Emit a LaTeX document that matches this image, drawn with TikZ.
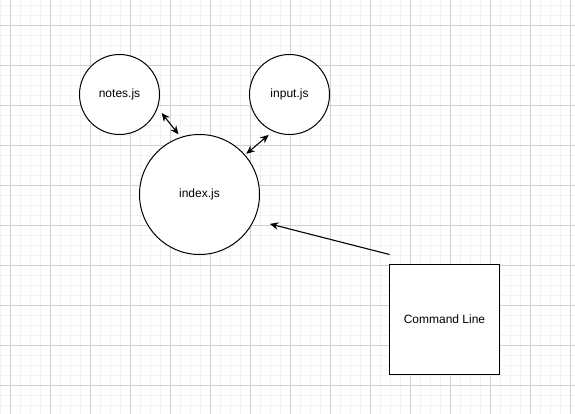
\documentclass[tikz,border=0pt]{standalone}
\usepackage{fontspec}
\setmainfont{Liberation Sans}
\usetikzlibrary{arrows.meta, positioning}
\definecolor{gridminor}{RGB}{242,242,242}
\definecolor{gridmajor}{RGB}{208,208,208}

\begin{document}
\begin{tikzpicture}[x=1pt, y=-1pt, font=\fontsize{12}{14}\selectfont,
    module/.style={circle, draw, line width=1pt, inner sep=0pt, outer sep=0pt, fill=white},
    terminal/.style={rectangle, draw, line width=1pt, minimum size=110pt, inner sep=0pt, outer sep=0pt, fill=white},
    link/.style={line width=1.1pt, {Stealth[length=8.5pt,width=7.5pt]}-{Stealth[length=8.5pt,width=7.5pt]}},
    call/.style={line width=1.1pt, -{Stealth[length=8.5pt,width=7.5pt]}}]

    \useasboundingbox (0,0) rectangle (575,414);

    % Background grid (minor lines)
    \foreach \x in {0,10,...,570} {
        \draw[gridminor, line width=0.7pt] (\x,0) -- (\x,414);
    }
    \foreach \y in {5,15,...,414} {
        \draw[gridminor, line width=0.7pt] (0,\y) -- (575,\y);
    }

    % Background grid (major lines)
    \foreach \x in {10,50,...,570} {
        \draw[gridmajor, line width=0.7pt] (\x,0) -- (\x,414);
    }
    \foreach \y in {25,65,...,414} {
        \draw[gridmajor, line width=0.7pt] (0,\y) -- (575,\y);
    }

    % Modules
    \node[module, minimum size=80pt] (notes) at (119.5,94.5) {notes.js};
    \node[module, minimum size=80pt] (input) at (289.5,94.5) {input.js};
    \node[module, minimum size=120pt] (index) at (199.5,194.5) {index.js};

    % Command line box
    \node[terminal] (cmd) at (444.5,319.5) {Command Line};

    % Connectors
    \draw[link, shorten <=7pt, shorten >=4pt] (notes.-19) -- (index.108);
    \draw[link, shorten <=6pt, shorten >=2pt] (input.-114) -- (index.41);
    \draw[call, shorten >=16.5pt] ([yshift=10pt]cmd.north west) -- (index.-25);

\end{tikzpicture}
\end{document}
